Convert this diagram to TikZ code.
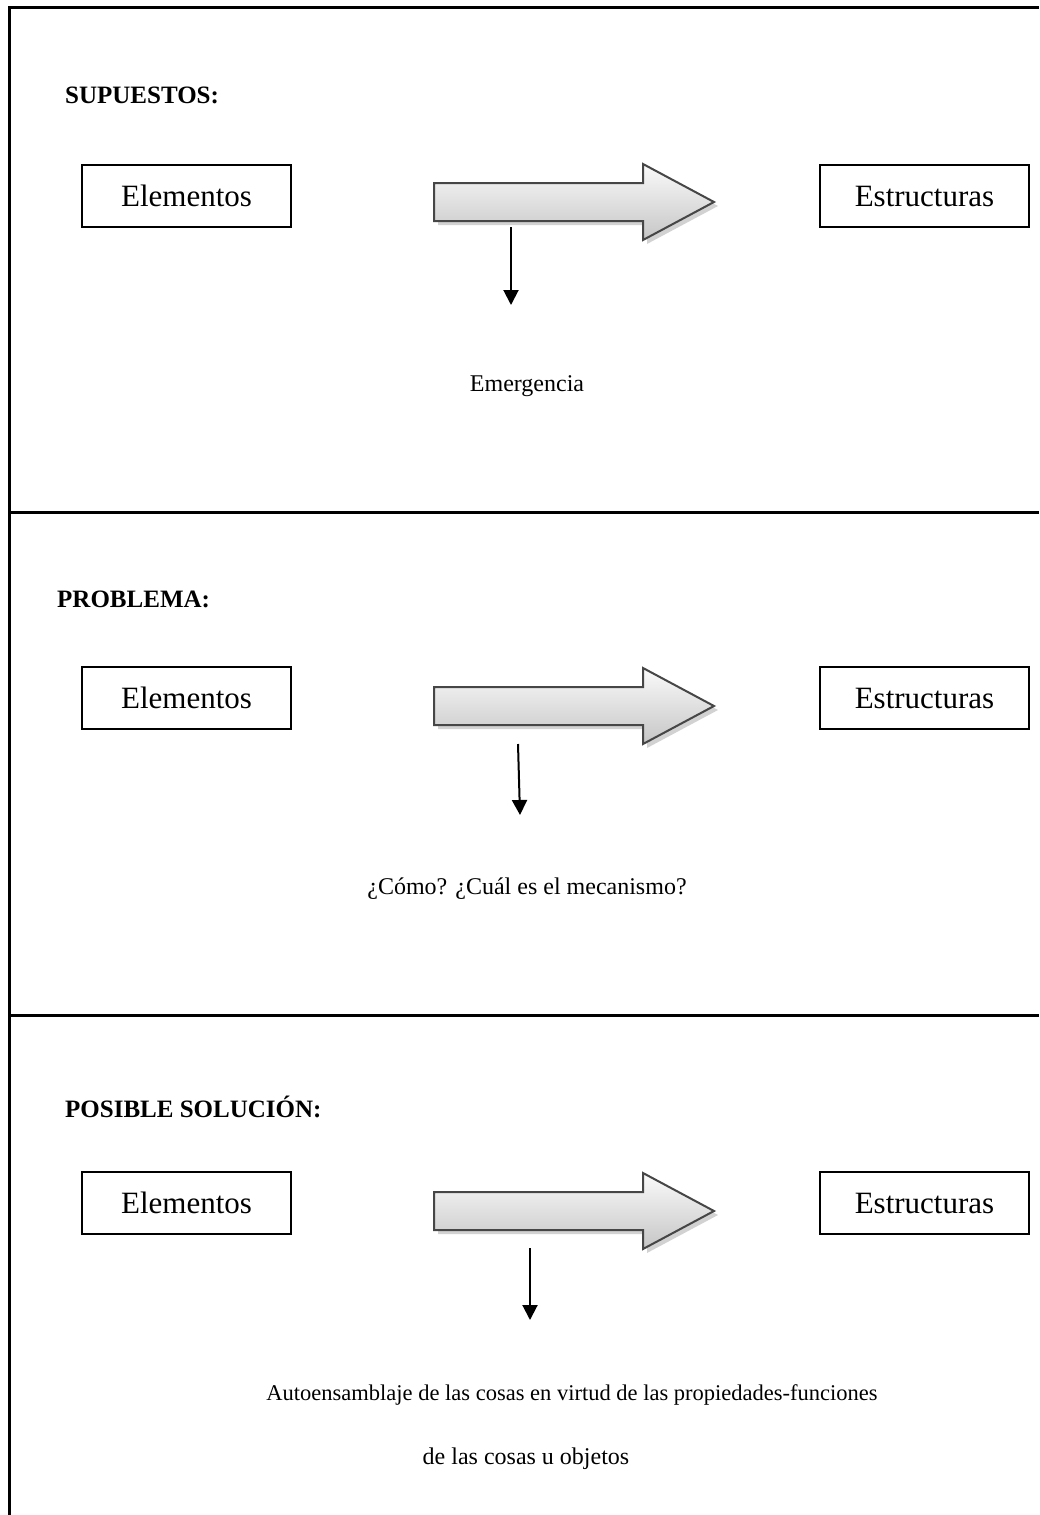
\documentclass[tikz,border=0pt]{standalone}
\usepackage{fontspec}
\setmainfont{Liberation Serif}
\usetikzlibrary{arrows.meta}
\tikzset{
 boxnode/.style={draw, line width=1.5pt, minimum width=209pt, minimum height=62pt, inner sep=0pt, font=\fontsize{31}{37}\selectfont},
 headnode/.style={anchor=base west, inner sep=0pt, font=\fontsize{25}{30}\selectfont\bfseries},
 bodynode/.style={anchor=base, inner sep=0pt, font=\fontsize{24}{29}\selectfont},
 bigarrow/.style={draw=gray!55!black, line width=2pt, line join=miter, top color=gray!4, bottom color=gray!45},
 arrowshadow/.style={fill=gray!35, draw=none},
 downarrow/.style={line width=2pt, -{Triangle[width=15pt,length=15pt]}},
 frameline/.style={line width=3pt}
}
\newcommand\drawbigarrow[1]{%
 \fill[arrowshadow,xshift=4pt,yshift=-4pt] (434,#1) -- ++(209,0) -- ++(0,-19) -- ++(71,38) -- ++(-71,38) -- ++(0,-19) -- ++(-209,0) -- cycle;
 \draw[bigarrow] (434,#1) -- ++(209,0) -- ++(0,-19) -- ++(71,38) -- ++(-71,38) -- ++(0,-19) -- ++(-209,0) -- cycle;
}
\begin{document}
\begin{tikzpicture}[x=1pt,y=-1pt]
\useasboundingbox (0,0) rectangle (1039,1515);
% frame
\draw[frameline] (9.5,1515) -- (9.5,7.5) -- (1039,7.5);
\draw[frameline] (9.5,512.5) -- (1039,512.5);
\draw[frameline] (9.5,1015.5) -- (1039,1015.5);

% section 1
\node[headnode] (h1) at (65,103) {SUPUESTOS:};
\node[boxnode] (e1) at (186.5,196) {Elementos};
\node[boxnode] (s1) at (924.5,196) {Estructuras};
\drawbigarrow{183}
\coordinate (a1s) at (511,227);
\coordinate (a1e) at (511,305);
\draw[downarrow] (a1s) -- (a1e);
\node[bodynode] (t1) at (527,391) {Emergencia};

% section 2
\node[headnode] (h2) at (57,607) {PROBLEMA:};
\node[boxnode] (e2) at (186.5,698) {Elementos};
\node[boxnode] (s2) at (924.5,698) {Estructuras};
\drawbigarrow{687}
\coordinate (a2s) at (518,744);
\coordinate (a2e) at (520,815);
\draw[downarrow] (a2s) -- (a2e);
\node[bodynode] (t2) at (527,894) {¿Cómo? ¿Cuál es el mecanismo?};

% section 3
\node[headnode] (h3) at (65,1117) {POSIBLE SOLUCIÓN:};
\node[boxnode] (e3) at (186.5,1203) {Elementos};
\node[boxnode] (s3) at (924.5,1203) {Estructuras};
\drawbigarrow{1192}
\coordinate (a3s) at (530,1248);
\coordinate (a3e) at (530,1320);
\draw[downarrow] (a3s) -- (a3e);
\node[bodynode, font=\fontsize{22.5}{27}\selectfont] (t3) at (572,1400) {Autoensamblaje de las cosas en virtud de las propiedades-funciones};
\node[bodynode] (t4) at (526,1464) {de las cosas u objetos};
\end{tikzpicture}
\end{document}
